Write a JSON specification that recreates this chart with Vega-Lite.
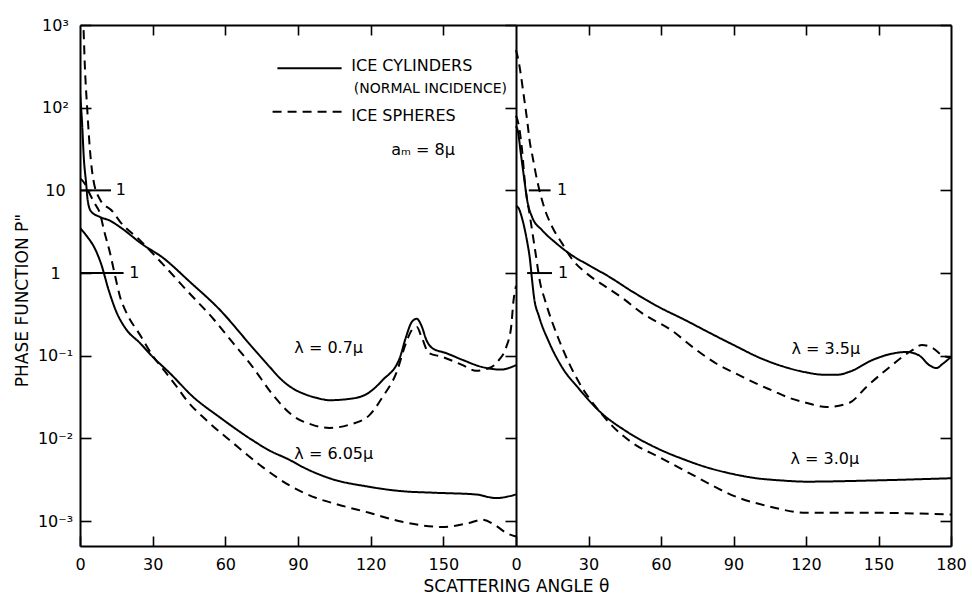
{
  "$schema": "https://vega.github.io/schema/vega-lite/v6.json",
  "width": 871,
  "height": 521,
  "autosize": {"type": "none"},
  "padding": {"left": 80, "top": 25, "right": 21, "bottom": 53},
  "background": "white",
  "config": {
    "view": {"stroke": null},
    "font": "DejaVu Sans",
    "axis": {"domainColor": "black", "tickColor": "black", "labelColor": "black", "titleColor": "black", "grid": false, "domainWidth": 2, "tickWidth": 1.6, "labelFont": "DejaVu Sans", "titleFont": "DejaVu Sans", "labelFlush": false, "labelOverlap": false, "labelBound": false}
  },
  "datasets": {
    "left": [
      {"series":"0.7c","kind":"cyl","theta":0,"P":150},{"series":"0.7c","kind":"cyl","theta":0.8,"P":70},{"series":"0.7c","kind":"cyl","theta":1.6,"P":24},{"series":"0.7c","kind":"cyl","theta":2.5,"P":12.5},{"series":"0.7c","kind":"cyl","theta":3.2,"P":7.5},{"series":"0.7c","kind":"cyl","theta":4.5,"P":5.6},{"series":"0.7c","kind":"cyl","theta":8,"P":4.8},{"series":"0.7c","kind":"cyl","theta":12.4,"P":4.3},{"series":"0.7c","kind":"cyl","theta":16.5,"P":3.6},{"series":"0.7c","kind":"cyl","theta":26,"P":2.2},{"series":"0.7c","kind":"cyl","theta":34,"P":1.55},{"series":"0.7c","kind":"cyl","theta":45,"P":0.8},{"series":"0.7c","kind":"cyl","theta":57.7,"P":0.36},{"series":"0.7c","kind":"cyl","theta":71,"P":0.128},{"series":"0.7c","kind":"cyl","theta":78,"P":0.075},{"series":"0.7c","kind":"cyl","theta":83.6,"P":0.05},{"series":"0.7c","kind":"cyl","theta":88,"P":0.04},{"series":"0.7c","kind":"cyl","theta":92,"P":0.035},{"series":"0.7c","kind":"cyl","theta":97.6,"P":0.031},{"series":"0.7c","kind":"cyl","theta":103,"P":0.029},{"series":"0.7c","kind":"cyl","theta":111,"P":0.03},{"series":"0.7c","kind":"cyl","theta":118,"P":0.034},{"series":"0.7c","kind":"cyl","theta":125,"P":0.051},{"series":"0.7c","kind":"cyl","theta":132,"P":0.094},{"series":"0.7c","kind":"cyl","theta":134.6,"P":0.169},{"series":"0.7c","kind":"cyl","theta":137,"P":0.257},{"series":"0.7c","kind":"cyl","theta":139,"P":0.28},{"series":"0.7c","kind":"cyl","theta":141,"P":0.23},{"series":"0.7c","kind":"cyl","theta":143,"P":0.155},{"series":"0.7c","kind":"cyl","theta":145.4,"P":0.124},{"series":"0.7c","kind":"cyl","theta":151,"P":0.108},{"series":"0.7c","kind":"cyl","theta":158,"P":0.089},{"series":"0.7c","kind":"cyl","theta":166,"P":0.073},{"series":"0.7c","kind":"cyl","theta":174,"P":0.068},{"series":"0.7c","kind":"cyl","theta":177,"P":0.071},{"series":"0.7c","kind":"cyl","theta":180,"P":0.077},
      {"series":"0.7s","kind":"sph","theta":0,"P":3000},{"series":"0.7s","kind":"sph","theta":1.4,"P":1000},{"series":"0.7s","kind":"sph","theta":2,"P":320},{"series":"0.7s","kind":"sph","theta":3,"P":95},{"series":"0.7s","kind":"sph","theta":4.1,"P":31},{"series":"0.7s","kind":"sph","theta":5.5,"P":13.5},{"series":"0.7s","kind":"sph","theta":8.2,"P":7.8},{"series":"0.7s","kind":"sph","theta":13.6,"P":5.5},{"series":"0.7s","kind":"sph","theta":16.5,"P":4.2},{"series":"0.7s","kind":"sph","theta":24.7,"P":2.5},{"series":"0.7s","kind":"sph","theta":34,"P":1.3},{"series":"0.7s","kind":"sph","theta":44,"P":0.62},{"series":"0.7s","kind":"sph","theta":55,"P":0.28},{"series":"0.7s","kind":"sph","theta":63,"P":0.145},{"series":"0.7s","kind":"sph","theta":71,"P":0.075},{"series":"0.7s","kind":"sph","theta":79.5,"P":0.034},{"series":"0.7s","kind":"sph","theta":87.7,"P":0.019},{"series":"0.7s","kind":"sph","theta":96,"P":0.0146},{"series":"0.7s","kind":"sph","theta":103,"P":0.0134},{"series":"0.7s","kind":"sph","theta":111,"P":0.0146},{"series":"0.7s","kind":"sph","theta":119.4,"P":0.019},{"series":"0.7s","kind":"sph","theta":125,"P":0.032},{"series":"0.7s","kind":"sph","theta":130.6,"P":0.062},{"series":"0.7s","kind":"sph","theta":134.6,"P":0.143},{"series":"0.7s","kind":"sph","theta":137,"P":0.205},{"series":"0.7s","kind":"sph","theta":139,"P":0.224},{"series":"0.7s","kind":"sph","theta":141,"P":0.169},{"series":"0.7s","kind":"sph","theta":144,"P":0.108},{"series":"0.7s","kind":"sph","theta":149.5,"P":0.097},{"series":"0.7s","kind":"sph","theta":158,"P":0.077},{"series":"0.7s","kind":"sph","theta":163.5,"P":0.066},{"series":"0.7s","kind":"sph","theta":169,"P":0.071},{"series":"0.7s","kind":"sph","theta":173,"P":0.089},{"series":"0.7s","kind":"sph","theta":176,"P":0.128},{"series":"0.7s","kind":"sph","theta":178,"P":0.224},{"series":"0.7s","kind":"sph","theta":179,"P":0.47},{"series":"0.7s","kind":"sph","theta":180,"P":0.7},
      {"series":"6.05c","kind":"cyl","theta":0,"P":3.5},{"series":"6.05c","kind":"cyl","theta":3.2,"P":2.7},{"series":"6.05c","kind":"cyl","theta":5.8,"P":2.07},{"series":"6.05c","kind":"cyl","theta":8.6,"P":1.32},{"series":"6.05c","kind":"cyl","theta":12,"P":0.6},{"series":"6.05c","kind":"cyl","theta":15,"P":0.34},{"series":"6.05c","kind":"cyl","theta":19,"P":0.21},{"series":"6.05c","kind":"cyl","theta":24.7,"P":0.143},{"series":"6.05c","kind":"cyl","theta":30,"P":0.097},{"series":"6.05c","kind":"cyl","theta":37,"P":0.062},{"series":"6.05c","kind":"cyl","theta":46.6,"P":0.032},{"series":"6.05c","kind":"cyl","theta":57.7,"P":0.018},{"series":"6.05c","kind":"cyl","theta":71,"P":0.0096},{"series":"6.05c","kind":"cyl","theta":78,"P":0.0072},{"series":"6.05c","kind":"cyl","theta":86.5,"P":0.0055},{"series":"6.05c","kind":"cyl","theta":92,"P":0.0045},{"series":"6.05c","kind":"cyl","theta":103,"P":0.0033},{"series":"6.05c","kind":"cyl","theta":119.4,"P":0.0026},{"series":"6.05c","kind":"cyl","theta":133,"P":0.0023},{"series":"6.05c","kind":"cyl","theta":147,"P":0.0022},{"series":"6.05c","kind":"cyl","theta":163.5,"P":0.0021},{"series":"6.05c","kind":"cyl","theta":171.7,"P":0.0019},{"series":"6.05c","kind":"cyl","theta":180,"P":0.0021},
      {"series":"6.05s","kind":"sph","theta":0,"P":14},{"series":"6.05s","kind":"sph","theta":2,"P":12},{"series":"6.05s","kind":"sph","theta":3.3,"P":10},{"series":"6.05s","kind":"sph","theta":4.5,"P":8.5},{"series":"6.05s","kind":"sph","theta":6,"P":7},{"series":"6.05s","kind":"sph","theta":8.2,"P":5.3},{"series":"6.05s","kind":"sph","theta":10,"P":3.2},{"series":"6.05s","kind":"sph","theta":12.4,"P":1.75},{"series":"6.05s","kind":"sph","theta":14.4,"P":0.95},{"series":"6.05s","kind":"sph","theta":16.5,"P":0.52},{"series":"6.05s","kind":"sph","theta":19.2,"P":0.33},{"series":"6.05s","kind":"sph","theta":24.7,"P":0.18},{"series":"6.05s","kind":"sph","theta":30,"P":0.1},{"series":"6.05s","kind":"sph","theta":35,"P":0.065},{"series":"6.05s","kind":"sph","theta":40,"P":0.042},{"series":"6.05s","kind":"sph","theta":44,"P":0.029},{"series":"6.05s","kind":"sph","theta":52,"P":0.0168},{"series":"6.05s","kind":"sph","theta":63,"P":0.0089},{"series":"6.05s","kind":"sph","theta":75.4,"P":0.0045},{"series":"6.05s","kind":"sph","theta":86.5,"P":0.0027},{"series":"6.05s","kind":"sph","theta":97.6,"P":0.0019},{"series":"6.05s","kind":"sph","theta":106,"P":0.0016},{"series":"6.05s","kind":"sph","theta":119.4,"P":0.00126},{"series":"6.05s","kind":"sph","theta":133,"P":0.00098},{"series":"6.05s","kind":"sph","theta":149.5,"P":0.00085},{"series":"6.05s","kind":"sph","theta":160.6,"P":0.00095},{"series":"6.05s","kind":"sph","theta":166,"P":0.00104},{"series":"6.05s","kind":"sph","theta":171.7,"P":0.00088},{"series":"6.05s","kind":"sph","theta":176,"P":0.00072},{"series":"6.05s","kind":"sph","theta":180,"P":0.00065}
    ],
    "right": [
      {"series":"3.5c","kind":"cyl","theta":0,"P":60},{"series":"3.5c","kind":"cyl","theta":1,"P":48},{"series":"3.5c","kind":"cyl","theta":1.8,"P":31},{"series":"3.5c","kind":"cyl","theta":3.3,"P":14.5},{"series":"3.5c","kind":"cyl","theta":4.6,"P":7.7},{"series":"3.5c","kind":"cyl","theta":6.6,"P":4.8},{"series":"3.5c","kind":"cyl","theta":10.8,"P":3.3},{"series":"3.5c","kind":"cyl","theta":16.6,"P":2.3},{"series":"3.5c","kind":"cyl","theta":23,"P":1.65},{"series":"3.5c","kind":"cyl","theta":30,"P":1.25},{"series":"3.5c","kind":"cyl","theta":38.6,"P":0.9},{"series":"3.5c","kind":"cyl","theta":48,"P":0.6},{"series":"3.5c","kind":"cyl","theta":59,"P":0.39},{"series":"3.5c","kind":"cyl","theta":70,"P":0.27},{"series":"3.5c","kind":"cyl","theta":80,"P":0.19},{"series":"3.5c","kind":"cyl","theta":90,"P":0.135},{"series":"3.5c","kind":"cyl","theta":101,"P":0.094},{"series":"3.5c","kind":"cyl","theta":110,"P":0.075},{"series":"3.5c","kind":"cyl","theta":120,"P":0.063},{"series":"3.5c","kind":"cyl","theta":127,"P":0.059},{"series":"3.5c","kind":"cyl","theta":133,"P":0.059},{"series":"3.5c","kind":"cyl","theta":138,"P":0.064},{"series":"3.5c","kind":"cyl","theta":147.6,"P":0.089},{"series":"3.5c","kind":"cyl","theta":155,"P":0.105},{"series":"3.5c","kind":"cyl","theta":161.7,"P":0.111},{"series":"3.5c","kind":"cyl","theta":167,"P":0.1},{"series":"3.5c","kind":"cyl","theta":171,"P":0.077},{"series":"3.5c","kind":"cyl","theta":174,"P":0.071},{"series":"3.5c","kind":"cyl","theta":176.6,"P":0.08},{"series":"3.5c","kind":"cyl","theta":180,"P":0.097},
      {"series":"3.5s","kind":"sph","theta":0,"P":500},{"series":"3.5s","kind":"sph","theta":1.2,"P":350},{"series":"3.5s","kind":"sph","theta":1.7,"P":286},{"series":"3.5s","kind":"sph","theta":3.3,"P":134},{"series":"3.5s","kind":"sph","theta":4.6,"P":71},{"series":"3.5s","kind":"sph","theta":5.8,"P":37},{"series":"3.5s","kind":"sph","theta":6.6,"P":28},{"series":"3.5s","kind":"sph","theta":8.7,"P":13.4},{"series":"3.5s","kind":"sph","theta":11.6,"P":6.3},{"series":"3.5s","kind":"sph","theta":15,"P":3.6},{"series":"3.5s","kind":"sph","theta":19,"P":2.3},{"series":"3.5s","kind":"sph","theta":23,"P":1.5},{"series":"3.5s","kind":"sph","theta":30,"P":0.95},{"series":"3.5s","kind":"sph","theta":36,"P":0.72},{"series":"3.5s","kind":"sph","theta":44,"P":0.5},{"series":"3.5s","kind":"sph","theta":52,"P":0.33},{"series":"3.5s","kind":"sph","theta":64.7,"P":0.2},{"series":"3.5s","kind":"sph","theta":73,"P":0.128},{"series":"3.5s","kind":"sph","theta":83,"P":0.08},{"series":"3.5s","kind":"sph","theta":92.5,"P":0.058},{"series":"3.5s","kind":"sph","theta":99.5,"P":0.046},{"series":"3.5s","kind":"sph","theta":106,"P":0.038},{"series":"3.5s","kind":"sph","theta":113,"P":0.031},{"series":"3.5s","kind":"sph","theta":120,"P":0.027},{"series":"3.5s","kind":"sph","theta":128.5,"P":0.024},{"series":"3.5s","kind":"sph","theta":138,"P":0.027},{"series":"3.5s","kind":"sph","theta":145,"P":0.042},{"series":"3.5s","kind":"sph","theta":154.6,"P":0.073},{"series":"3.5s","kind":"sph","theta":164,"P":0.117},{"series":"3.5s","kind":"sph","theta":168,"P":0.135},{"series":"3.5s","kind":"sph","theta":172.5,"P":0.124},{"series":"3.5s","kind":"sph","theta":176.6,"P":0.1},{"series":"3.5s","kind":"sph","theta":180,"P":0.095},
      {"series":"3.0c","kind":"cyl","theta":0,"P":6.5},{"series":"3.0c","kind":"cyl","theta":1.2,"P":6},{"series":"3.0c","kind":"cyl","theta":2.5,"P":4.6},{"series":"3.0c","kind":"cyl","theta":3.5,"P":3.5},{"series":"3.0c","kind":"cyl","theta":4.5,"P":2.5},{"series":"3.0c","kind":"cyl","theta":5.8,"P":1.44},{"series":"3.0c","kind":"cyl","theta":6.6,"P":0.85},{"series":"3.0c","kind":"cyl","theta":7.5,"P":0.5},{"series":"3.0c","kind":"cyl","theta":9.5,"P":0.3},{"series":"3.0c","kind":"cyl","theta":13.7,"P":0.145},{"series":"3.0c","kind":"cyl","theta":19,"P":0.073},{"series":"3.0c","kind":"cyl","theta":26,"P":0.04},{"series":"3.0c","kind":"cyl","theta":34.4,"P":0.0215},{"series":"3.0c","kind":"cyl","theta":46,"P":0.012},{"series":"3.0c","kind":"cyl","theta":58,"P":0.0077},{"series":"3.0c","kind":"cyl","theta":70,"P":0.0055},{"series":"3.0c","kind":"cyl","theta":78.6,"P":0.0045},{"series":"3.0c","kind":"cyl","theta":90,"P":0.0037},{"series":"3.0c","kind":"cyl","theta":99.5,"P":0.0033},{"series":"3.0c","kind":"cyl","theta":110,"P":0.0031},{"series":"3.0c","kind":"cyl","theta":120,"P":0.003},{"series":"3.0c","kind":"cyl","theta":147.6,"P":0.0031},{"series":"3.0c","kind":"cyl","theta":180,"P":0.0033},
      {"series":"3.0s","kind":"sph","theta":0,"P":80},{"series":"3.0s","kind":"sph","theta":1.2,"P":60},{"series":"3.0s","kind":"sph","theta":2.5,"P":31},{"series":"3.0s","kind":"sph","theta":3.7,"P":12.3},{"series":"3.0s","kind":"sph","theta":5.8,"P":4.8},{"series":"3.0s","kind":"sph","theta":7.9,"P":1.9},{"series":"3.0s","kind":"sph","theta":10,"P":0.76},{"series":"3.0s","kind":"sph","theta":12,"P":0.47},{"series":"3.0s","kind":"sph","theta":17.8,"P":0.155},{"series":"3.0s","kind":"sph","theta":26,"P":0.048},{"series":"3.0s","kind":"sph","theta":34.4,"P":0.0215},{"series":"3.0s","kind":"sph","theta":40,"P":0.014},{"series":"3.0s","kind":"sph","theta":48,"P":0.0089},{"series":"3.0s","kind":"sph","theta":60,"P":0.0058},{"series":"3.0s","kind":"sph","theta":71.7,"P":0.0038},{"series":"3.0s","kind":"sph","theta":92.5,"P":0.0019},{"series":"3.0s","kind":"sph","theta":105,"P":0.0015},{"series":"3.0s","kind":"sph","theta":120,"P":0.00126},{"series":"3.0s","kind":"sph","theta":147.6,"P":0.00126},{"series":"3.0s","kind":"sph","theta":180,"P":0.0012}
    ]
  },
  "layer": [
    {
      "layer": [
        {
          "data": {"name": "left"},
          "mark": {"type": "line", "interpolate": "monotone", "strokeWidth": 2, "color": "black", "clip": true},
          "encoding": {
            "x": {"field": "theta", "type": "quantitative", "scale": {"domain": [0, 180], "range": [0, 436], "nice": false, "zero": false},
              "axis": {"orient": "bottom", "values": [0, 30, 60, 90, 120, 150], "tickSize": -10, "labelPadding": 28, "labelBaseline": "middle", "labelFontSize": 16, "format": "d", "title": "SCATTERING ANGLE θ", "titleX": 436, "titleY": 40, "titleAlign": "center", "titleBaseline": "middle", "titleFontSize": 17, "titleFontWeight": "normal"}},
            "y": {"field": "P", "type": "quantitative", "scale": {"type": "log", "domain": [0.0005, 1000], "nice": false},
              "axis": {"orient": "left", "values": [0.001, 0.01, 0.1, 1, 10, 100, 1000], "labelExpr": "datum.value >= 999 ? '10³' : datum.value >= 99 ? '10²' : datum.value >= 9 ? '10' : datum.value >= 0.9 ? '1' : datum.value >= 0.09 ? '10⁻¹' : datum.value >= 0.009 ? '10⁻²' : '10⁻³'", "tickSize": -11, "labelPadding": 36, "labelAlign": "center", "labelBaseline": "middle", "labelFontSize": 16, "title": "PHASE FUNCTION P\"", "titleX": -58, "titleY": 275, "titleAngle": -90, "titleAlign": "center", "titleBaseline": "middle", "titleFontSize": 17, "titleFontWeight": "normal"}},
            "strokeDash": {"field": "kind", "type": "nominal", "scale": {"domain": ["cyl", "sph"], "range": [[1, 0], [9, 6]]}, "legend": null},
            "detail": {"field": "series"}
          }
        },
        {
          "data": {"values": [{"t0": 0, "t1": 12.8, "P": 10}, {"t0": 0, "t1": 18, "P": 1}]},
          "mark": {"type": "rule", "strokeWidth": 2, "color": "black"},
          "encoding": {
            "x": {"field": "t0", "type": "quantitative", "scale": {"domain": [0, 180], "range": [0, 436], "nice": false, "zero": false},
              "axis": {"orient": "top", "values": [30, 60, 90, 120, 150], "tickSize": -10, "labels": false, "title": null}},
            "x2": {"field": "t1"},
            "y": {"field": "P", "type": "quantitative", "scale": {"type": "log", "domain": [0.0005, 1000], "nice": false},
              "axis": {"orient": "right", "offset": -435, "values": [0.001, 0.01, 0.1, 1, 10, 100, 1000], "tickSize": -11, "labels": false, "title": null}}
          }
        },
        {
          "data": {"values": [{"t": 14.8, "P": 10, "text": "1"}, {"t": 20.3, "P": 1, "text": "1"}, {"t": 112, "P": 319, "text": "ICE CYLINDERS"}, {"t": 112, "P": 79.5, "text": "ICE SPHERES"}, {"t": 128.5, "P": 30.8, "text": "aₘ = 8μ"}, {"t": 88.5, "P": 0.124, "text": "λ = 0.7μ"}, {"t": 88.5, "P": 0.0065, "text": "λ = 6.05μ"}]},
          "mark": {"type": "text", "align": "left", "baseline": "middle", "fontSize": 16, "font": "DejaVu Sans", "color": "black"},
          "encoding": {
            "x": {"field": "t", "type": "quantitative", "scale": {"domain": [0, 180], "range": [0, 436], "nice": false, "zero": false}, "axis": null},
            "y": {"field": "P", "type": "quantitative", "scale": {"type": "log", "domain": [0.0005, 1000], "nice": false}, "axis": null},
            "text": {"field": "text"}
          }
        },
        {
          "data": {"values": [{"t": 113, "P": 168, "text": "(NORMAL INCIDENCE)"}]},
          "mark": {"type": "text", "align": "left", "baseline": "middle", "fontSize": 14, "font": "DejaVu Sans", "color": "black"},
          "encoding": {
            "x": {"field": "t", "type": "quantitative", "scale": {"domain": [0, 180], "range": [0, 436], "nice": false, "zero": false}, "axis": null},
            "y": {"field": "P", "type": "quantitative", "scale": {"type": "log", "domain": [0.0005, 1000], "nice": false}, "axis": null},
            "text": {"field": "text"}
          }
        },
        {
          "data": {"values": [{"kind": "cyl", "t0": 81.5, "t1": 108, "P": 299}, {"kind": "sph", "t0": 79.5, "t1": 108, "P": 89.6}]},
          "mark": {"type": "rule", "strokeWidth": 2, "color": "black"},
          "encoding": {
            "x": {"field": "t0", "type": "quantitative", "scale": {"domain": [0, 180], "range": [0, 436], "nice": false, "zero": false}, "axis": null},
            "x2": {"field": "t1"},
            "y": {"field": "P", "type": "quantitative", "scale": {"type": "log", "domain": [0.0005, 1000], "nice": false}, "axis": null},
            "strokeDash": {"field": "kind", "type": "nominal", "scale": {"domain": ["cyl", "sph"], "range": [[1, 0], [9, 6]]}, "legend": null}
          }
        }
      ],
      "resolve": {"axis": {"x": "independent", "y": "independent"}}
    },
    {
      "layer": [
        {
          "data": {"name": "right"},
          "mark": {"type": "line", "interpolate": "monotone", "strokeWidth": 2, "color": "black", "clip": true},
          "encoding": {
            "x": {"field": "theta", "type": "quantitative", "scale": {"domain": [0, 180], "range": [436, 871], "nice": false, "zero": false},
              "axis": {"orient": "bottom", "values": [0, 30, 60, 90, 120, 150, 180], "tickSize": -10, "labelPadding": 28, "labelBaseline": "middle", "labelFontSize": 16, "format": "d", "title": null}},
            "y": {"field": "P", "type": "quantitative", "scale": {"type": "log", "domain": [0.0005, 1000], "nice": false},
              "axis": {"orient": "right", "values": [0.001, 0.01, 0.1, 1, 10, 100, 1000], "tickSize": -11, "labels": false, "title": null}},
            "strokeDash": {"field": "kind", "type": "nominal", "scale": {"domain": ["cyl", "sph"], "range": [[1, 0], [9, 6]]}, "legend": null},
            "detail": {"field": "series"}
          }
        },
        {
          "data": {"values": [{"t0": 5.3, "t1": 14.3, "P": 10}, {"t0": 4.6, "t1": 14.9, "P": 1}]},
          "mark": {"type": "rule", "strokeWidth": 2, "color": "black"},
          "encoding": {
            "x": {"field": "t0", "type": "quantitative", "scale": {"domain": [0, 180], "range": [436, 871], "nice": false, "zero": false},
              "axis": {"orient": "top", "values": [30, 60, 90, 120, 150], "tickSize": -10, "labels": false, "title": null}},
            "x2": {"field": "t1"},
            "y": {"field": "P", "type": "quantitative", "scale": {"type": "log", "domain": [0.0005, 1000], "nice": false}, "axis": null}
          }
        },
        {
          "data": {"values": [{"t": 17, "P": 10, "text": "1"}, {"t": 17.4, "P": 1, "text": "1"}, {"t": 114, "P": 0.121, "text": "λ = 3.5μ"}, {"t": 113.6, "P": 0.00565, "text": "λ = 3.0μ"}]},
          "mark": {"type": "text", "align": "left", "baseline": "middle", "fontSize": 16, "font": "DejaVu Sans", "color": "black"},
          "encoding": {
            "x": {"field": "t", "type": "quantitative", "scale": {"domain": [0, 180], "range": [436, 871], "nice": false, "zero": false}, "axis": null},
            "y": {"field": "P", "type": "quantitative", "scale": {"type": "log", "domain": [0.0005, 1000], "nice": false}, "axis": null},
            "text": {"field": "text"}
          }
        }
      ],
      "resolve": {"axis": {"x": "independent", "y": "independent"}}
    }
  ],
  "resolve": {"scale": {"x": "independent"}, "axis": {"x": "independent", "y": "independent"}}
}
